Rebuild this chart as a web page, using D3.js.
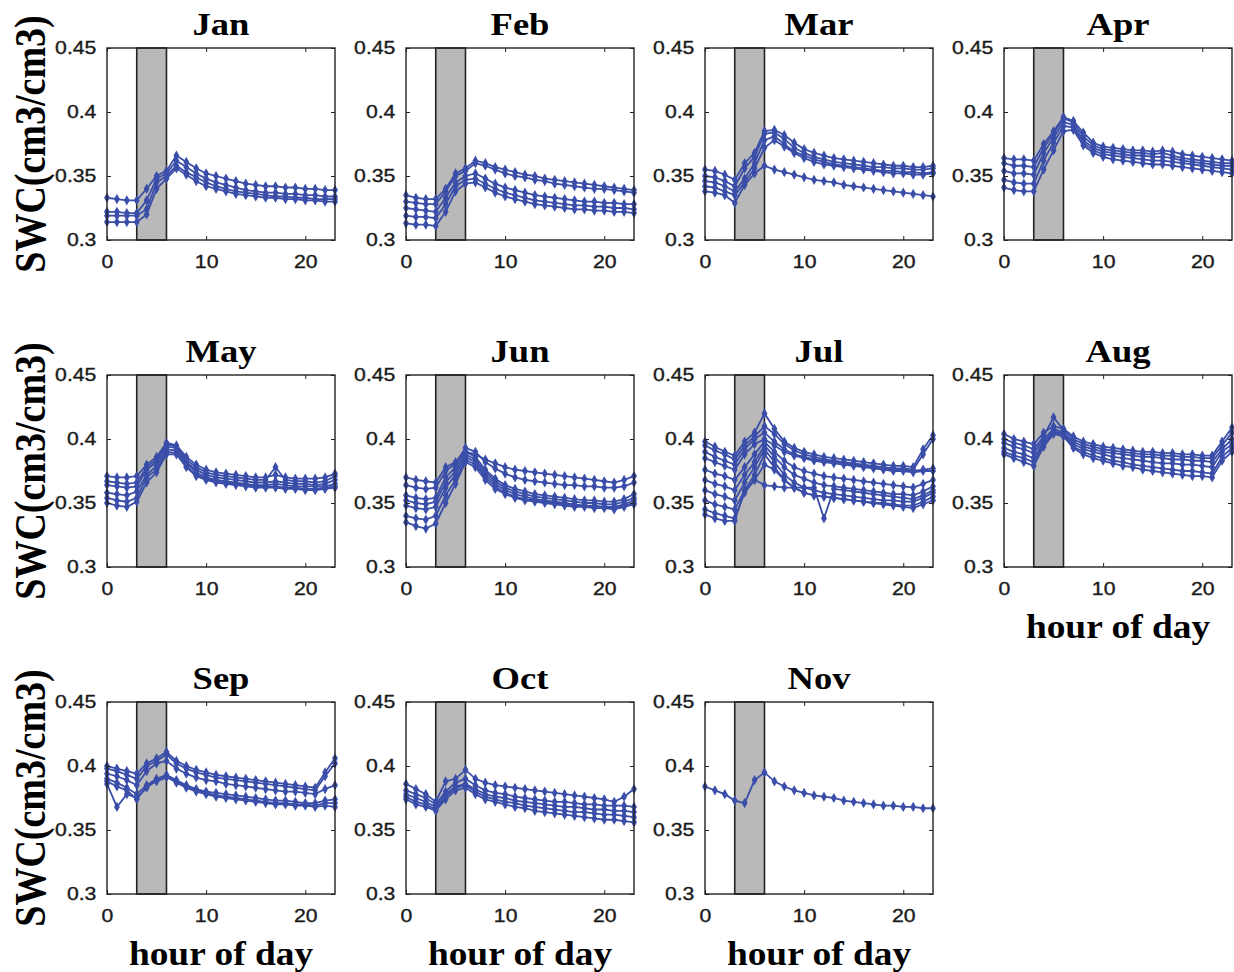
<!DOCTYPE html>
<html>
<head>
<meta charset="utf-8">
<script src="https://cdnjs.cloudflare.com/ajax/libs/d3/7.8.5/d3.min.js"></script>
<style>
  body { margin: 0; background: #fff; }
  svg { display: block; }
</style>
</head>
<body>
<div id="canvas"></div>
<script>
// soil water content by hour of day, one list of daily curves per month
var months = ["Jan", "Feb", "Mar", "Apr", "May", "Jun", "Jul", "Aug", "Sep", "Oct", "Nov"];
var hours = d3.range(24);
var xTicks = [0, 10, 20];
var yTicks = [0.3, 0.35, 0.4, 0.45];
var rainStart = 3, rainEnd = 6;

var jan = [
  [0.333,0.332,0.331,0.331,0.340,0.350,0.354,0.366,0.361,0.356,0.352,0.350,0.348,0.346,0.344,0.343,0.342,0.342,0.341,0.341,0.340,0.340,0.339,0.339],
  [0.322,0.322,0.321,0.321,0.331,0.348,0.352,0.362,0.357,0.352,0.348,0.345,0.343,0.341,0.339,0.338,0.337,0.337,0.336,0.336,0.335,0.335,0.334,0.334],
  [0.319,0.319,0.319,0.319,0.324,0.345,0.350,0.358,0.353,0.349,0.345,0.342,0.340,0.338,0.337,0.336,0.335,0.334,0.334,0.333,0.333,0.332,0.332,0.332],
  [0.314,0.314,0.314,0.314,0.320,0.340,0.348,0.356,0.351,0.346,0.342,0.340,0.338,0.336,0.335,0.334,0.333,0.333,0.332,0.332,0.331,0.331,0.330,0.330]
];
var feb = [
  [0.335,0.333,0.332,0.332,0.340,0.352,0.356,0.362,0.360,0.357,0.355,0.353,0.351,0.350,0.348,0.347,0.346,0.345,0.344,0.343,0.342,0.341,0.340,0.339],
  [0.330,0.329,0.328,0.328,0.338,0.350,0.354,0.360,0.358,0.355,0.352,0.350,0.349,0.347,0.346,0.344,0.343,0.342,0.341,0.340,0.340,0.339,0.338,0.337],
  [0.325,0.324,0.323,0.322,0.333,0.345,0.350,0.352,0.348,0.344,0.341,0.339,0.337,0.335,0.334,0.333,0.332,0.331,0.330,0.330,0.329,0.329,0.328,0.328],
  [0.319,0.318,0.318,0.317,0.328,0.342,0.347,0.348,0.344,0.340,0.337,0.335,0.333,0.331,0.330,0.329,0.328,0.327,0.327,0.326,0.326,0.325,0.325,0.324],
  [0.313,0.312,0.312,0.311,0.322,0.338,0.344,0.345,0.341,0.337,0.334,0.332,0.330,0.328,0.327,0.326,0.325,0.324,0.324,0.323,0.323,0.322,0.322,0.321]
];
var mar = [
  [0.355,0.354,0.351,0.347,0.360,0.368,0.385,0.386,0.382,0.376,0.371,0.368,0.366,0.364,0.363,0.362,0.361,0.360,0.359,0.358,0.358,0.357,0.357,0.358],
  [0.350,0.349,0.346,0.342,0.356,0.365,0.383,0.384,0.379,0.372,0.368,0.365,0.363,0.361,0.360,0.359,0.358,0.357,0.357,0.356,0.356,0.355,0.355,0.356],
  [0.346,0.345,0.342,0.338,0.348,0.360,0.378,0.381,0.375,0.369,0.366,0.363,0.361,0.359,0.358,0.357,0.356,0.355,0.354,0.354,0.353,0.353,0.352,0.353],
  [0.342,0.341,0.338,0.335,0.345,0.356,0.372,0.378,0.373,0.368,0.364,0.361,0.359,0.358,0.357,0.356,0.355,0.354,0.353,0.352,0.352,0.351,0.351,0.352],
  [0.338,0.337,0.335,0.329,0.343,0.352,0.358,0.355,0.353,0.351,0.349,0.347,0.346,0.345,0.343,0.342,0.341,0.340,0.339,0.338,0.337,0.336,0.335,0.334]
];
var apr = [
  [0.364,0.363,0.363,0.362,0.375,0.385,0.396,0.393,0.384,0.376,0.373,0.372,0.371,0.370,0.370,0.369,0.370,0.369,0.367,0.366,0.365,0.364,0.363,0.362],
  [0.360,0.358,0.358,0.357,0.372,0.383,0.395,0.392,0.381,0.374,0.371,0.370,0.369,0.368,0.368,0.367,0.368,0.366,0.364,0.363,0.362,0.361,0.360,0.360],
  [0.354,0.352,0.352,0.351,0.368,0.380,0.392,0.390,0.378,0.372,0.369,0.368,0.367,0.366,0.366,0.365,0.365,0.364,0.362,0.361,0.360,0.359,0.358,0.358],
  [0.347,0.345,0.344,0.344,0.362,0.376,0.389,0.388,0.376,0.370,0.367,0.366,0.365,0.364,0.363,0.362,0.362,0.361,0.360,0.359,0.358,0.357,0.356,0.355],
  [0.341,0.339,0.338,0.338,0.355,0.370,0.385,0.386,0.374,0.368,0.365,0.363,0.362,0.361,0.360,0.359,0.359,0.358,0.357,0.356,0.355,0.354,0.353,0.352]
];
var may = [
  [0.371,0.370,0.370,0.371,0.380,0.386,0.397,0.395,0.386,0.380,0.376,0.374,0.373,0.372,0.371,0.370,0.370,0.372,0.370,0.369,0.369,0.369,0.370,0.373],
  [0.367,0.366,0.365,0.366,0.378,0.384,0.396,0.394,0.384,0.378,0.374,0.372,0.371,0.370,0.369,0.368,0.368,0.378,0.368,0.367,0.367,0.366,0.367,0.371],
  [0.364,0.363,0.362,0.363,0.376,0.382,0.394,0.393,0.382,0.376,0.372,0.370,0.369,0.368,0.367,0.366,0.366,0.367,0.366,0.365,0.365,0.364,0.365,0.368],
  [0.358,0.357,0.356,0.359,0.372,0.379,0.392,0.391,0.381,0.374,0.370,0.368,0.367,0.366,0.365,0.364,0.364,0.365,0.364,0.363,0.363,0.363,0.363,0.365],
  [0.354,0.352,0.351,0.354,0.370,0.376,0.390,0.389,0.379,0.372,0.369,0.367,0.366,0.365,0.364,0.363,0.363,0.363,0.362,0.362,0.361,0.361,0.362,0.363],
  [0.350,0.348,0.347,0.351,0.366,0.374,0.388,0.388,0.378,0.371,0.368,0.366,0.365,0.364,0.363,0.362,0.362,0.362,0.361,0.361,0.360,0.360,0.361,0.362]
];
var jun = [
  [0.370,0.368,0.367,0.366,0.378,0.382,0.390,0.388,0.384,0.381,0.378,0.376,0.375,0.374,0.373,0.372,0.371,0.370,0.369,0.368,0.367,0.366,0.368,0.371],
  [0.364,0.362,0.361,0.362,0.375,0.381,0.393,0.390,0.382,0.377,0.373,0.370,0.368,0.367,0.366,0.365,0.364,0.364,0.363,0.363,0.362,0.362,0.363,0.366],
  [0.356,0.354,0.353,0.354,0.370,0.378,0.390,0.386,0.376,0.369,0.364,0.361,0.359,0.357,0.356,0.355,0.354,0.353,0.352,0.352,0.351,0.351,0.353,0.357],
  [0.352,0.350,0.349,0.351,0.366,0.375,0.388,0.384,0.374,0.367,0.362,0.359,0.357,0.355,0.354,0.353,0.352,0.351,0.350,0.350,0.349,0.349,0.351,0.354],
  [0.348,0.346,0.345,0.347,0.362,0.372,0.386,0.382,0.372,0.365,0.360,0.357,0.355,0.353,0.352,0.351,0.350,0.349,0.348,0.348,0.347,0.347,0.349,0.352],
  [0.340,0.338,0.337,0.340,0.356,0.368,0.384,0.380,0.370,0.363,0.358,0.355,0.353,0.352,0.351,0.350,0.349,0.348,0.348,0.347,0.347,0.346,0.348,0.350],
  [0.335,0.332,0.330,0.334,0.350,0.365,0.382,0.378,0.368,0.361,0.357,0.354,0.352,0.351,0.350,0.349,0.348,0.347,0.347,0.346,0.346,0.345,0.347,0.349]
];
var jul = [
  [0.398,0.394,0.390,0.387,0.398,0.405,0.420,0.408,0.398,0.393,0.390,0.388,0.386,0.385,0.384,0.383,0.382,0.381,0.380,0.379,0.379,0.378,0.392,0.403],
  [0.395,0.391,0.388,0.384,0.395,0.402,0.410,0.404,0.396,0.391,0.388,0.386,0.384,0.383,0.382,0.381,0.380,0.379,0.378,0.377,0.377,0.376,0.388,0.400],
  [0.390,0.386,0.383,0.380,0.392,0.400,0.405,0.398,0.392,0.388,0.386,0.384,0.383,0.382,0.381,0.380,0.379,0.378,0.377,0.376,0.376,0.375,0.376,0.377],
  [0.385,0.382,0.379,0.376,0.388,0.396,0.400,0.395,0.390,0.387,0.385,0.383,0.382,0.381,0.380,0.379,0.378,0.377,0.376,0.375,0.375,0.374,0.375,0.375],
  [0.376,0.373,0.371,0.368,0.378,0.388,0.398,0.390,0.383,0.378,0.375,0.373,0.371,0.370,0.369,0.368,0.367,0.366,0.365,0.364,0.363,0.362,0.365,0.368],
  [0.368,0.365,0.363,0.360,0.372,0.382,0.395,0.386,0.378,0.372,0.369,0.366,0.364,0.363,0.362,0.361,0.360,0.359,0.358,0.357,0.357,0.356,0.359,0.363],
  [0.360,0.357,0.355,0.352,0.366,0.378,0.392,0.382,0.372,0.366,0.362,0.360,0.358,0.357,0.356,0.355,0.354,0.353,0.352,0.352,0.351,0.351,0.354,0.358],
  [0.352,0.349,0.347,0.345,0.360,0.372,0.388,0.378,0.368,0.362,0.358,0.356,0.355,0.354,0.353,0.352,0.351,0.350,0.350,0.349,0.348,0.348,0.351,0.355],
  [0.345,0.342,0.340,0.338,0.358,0.368,0.364,0.363,0.362,0.362,0.362,0.362,0.338,0.361,0.360,0.359,0.358,0.357,0.356,0.355,0.354,0.353,0.356,0.360],
  [0.341,0.338,0.336,0.336,0.360,0.368,0.380,0.376,0.368,0.362,0.358,0.356,0.355,0.354,0.353,0.352,0.351,0.350,0.349,0.348,0.347,0.346,0.349,0.352]
];
var aug = [
  [0.404,0.400,0.398,0.396,0.405,0.410,0.408,0.402,0.398,0.396,0.394,0.393,0.392,0.391,0.390,0.390,0.389,0.389,0.388,0.388,0.387,0.387,0.398,0.409],
  [0.400,0.397,0.395,0.392,0.402,0.417,0.407,0.400,0.396,0.394,0.392,0.391,0.390,0.389,0.388,0.388,0.387,0.387,0.386,0.386,0.385,0.385,0.395,0.405],
  [0.397,0.394,0.392,0.389,0.400,0.408,0.405,0.398,0.394,0.392,0.390,0.389,0.388,0.387,0.386,0.386,0.385,0.384,0.384,0.383,0.383,0.382,0.392,0.400],
  [0.393,0.390,0.388,0.385,0.398,0.406,0.404,0.396,0.392,0.390,0.388,0.386,0.385,0.384,0.383,0.382,0.381,0.381,0.380,0.380,0.379,0.378,0.390,0.396],
  [0.390,0.387,0.385,0.382,0.396,0.405,0.403,0.394,0.390,0.387,0.385,0.383,0.382,0.380,0.379,0.378,0.377,0.376,0.375,0.375,0.374,0.373,0.386,0.393],
  [0.388,0.385,0.382,0.379,0.394,0.404,0.402,0.393,0.388,0.385,0.383,0.381,0.379,0.378,0.376,0.375,0.374,0.373,0.372,0.371,0.371,0.370,0.383,0.390]
];
var sep = [
  [0.400,0.398,0.396,0.394,0.402,0.406,0.411,0.404,0.400,0.397,0.395,0.393,0.392,0.391,0.390,0.389,0.388,0.387,0.386,0.385,0.384,0.383,0.395,0.406],
  [0.398,0.396,0.393,0.390,0.400,0.404,0.409,0.402,0.398,0.395,0.393,0.391,0.390,0.389,0.388,0.387,0.386,0.385,0.384,0.383,0.382,0.381,0.392,0.402],
  [0.394,0.392,0.389,0.385,0.396,0.402,0.404,0.398,0.394,0.391,0.389,0.388,0.386,0.385,0.384,0.383,0.382,0.381,0.380,0.380,0.379,0.378,0.382,0.385],
  [0.390,0.387,0.383,0.378,0.385,0.390,0.393,0.389,0.385,0.382,0.380,0.379,0.378,0.377,0.376,0.375,0.374,0.373,0.373,0.372,0.371,0.371,0.373,0.374],
  [0.386,0.368,0.378,0.375,0.383,0.389,0.392,0.387,0.383,0.380,0.378,0.376,0.375,0.374,0.373,0.372,0.371,0.370,0.370,0.369,0.369,0.368,0.369,0.368],
  [0.388,0.384,0.381,0.374,0.384,0.388,0.391,0.388,0.384,0.381,0.379,0.377,0.376,0.375,0.374,0.373,0.372,0.371,0.371,0.370,0.370,0.369,0.371,0.371]
];
var oct = [
  [0.386,0.382,0.378,0.372,0.388,0.390,0.397,0.390,0.387,0.385,0.384,0.383,0.382,0.381,0.380,0.379,0.378,0.377,0.376,0.375,0.374,0.372,0.376,0.382],
  [0.381,0.378,0.375,0.370,0.380,0.387,0.390,0.385,0.381,0.379,0.378,0.376,0.375,0.374,0.373,0.372,0.372,0.371,0.370,0.370,0.369,0.369,0.369,0.368],
  [0.378,0.375,0.372,0.368,0.378,0.384,0.386,0.382,0.378,0.376,0.375,0.373,0.372,0.371,0.370,0.369,0.368,0.368,0.367,0.366,0.366,0.365,0.365,0.364],
  [0.376,0.372,0.370,0.366,0.376,0.383,0.385,0.380,0.376,0.374,0.372,0.371,0.369,0.368,0.367,0.366,0.365,0.364,0.364,0.363,0.362,0.362,0.361,0.360],
  [0.374,0.370,0.368,0.365,0.374,0.381,0.383,0.378,0.374,0.372,0.370,0.368,0.367,0.365,0.364,0.363,0.362,0.361,0.360,0.359,0.358,0.358,0.357,0.356]
];
var nov = [
  [0.384,0.381,0.378,0.373,0.371,0.389,0.395,0.388,0.384,0.381,0.379,0.377,0.376,0.375,0.373,0.372,0.371,0.370,0.369,0.369,0.368,0.368,0.367,0.367]
];
var monthData = [jan, feb, mar, apr, may, jun, jul, aug, sep, oct, nov];

var width = 1234, height = 972;
var panelW = 228, panelH = 192;
var colStep = 299, rowStep = 327;
var left0 = 107, top0 = 48;
var blue = "#3a4ea9";
var serif = "'Liberation Serif', 'Times New Roman', serif";
var sans = "'Liberation Sans', Arial, Helvetica, sans-serif";
var stretch = 1.18; // the source figure is a bit wider than tall

var svg = d3.select("#canvas").append("svg").attr("width", width).attr("height", height);

var x = d3.scaleLinear().domain([0, 23]).range([0, panelW]);
var y = d3.scaleLinear().domain([0.3, 0.45]).range([panelH, 0]);
var line = d3.line().x(function(d, i) { return x(hours[i]); }).y(function(d) { return y(d); });
var marker = d3.symbol().type(d3.symbolDiamond).size(30);

months.forEach(function(m, k) {
    var col = k % 4, row = Math.floor(k / 4);
    var g = svg.append("g").attr("transform", "translate(" + (left0 + col * colStep) + "," + (top0 + row * rowStep) + ")");

    // shaded rain window
    g.append("rect")
        .attr("x", x(rainStart))
        .attr("y", 0)
        .attr("width", x(rainEnd) - x(rainStart))
        .attr("height", panelH)
        .attr("fill", "#b9b9b9")
        .attr("stroke", "#222")
        .attr("stroke-width", 1.6);

    monthData[k].forEach(function(s) {
        g.append("path")
            .attr("d", line(s))
            .attr("fill", "none")
            .attr("stroke", blue)
            .attr("stroke-width", 1.8);
        g.selectAll(null).data(s).enter().append("path")
            .attr("d", marker)
            .attr("transform", function(d, i) { return "translate(" + x(hours[i]) + "," + y(d) + ")"; })
            .attr("fill", blue);
    });

    // axes, ticks pointing inward like matlab
    var xb = g.append("g").attr("transform", "translate(0," + panelH + ")")
        .call(d3.axisBottom(x).tickValues(xTicks).tickSizeInner(-4).tickSizeOuter(0).tickPadding(15));
    g.append("g").call(d3.axisTop(x).tickValues(xTicks).tickSizeInner(-4).tickSizeOuter(0).tickFormat(""));
    var yl = g.append("g")
        .call(d3.axisLeft(y).tickValues(yTicks).tickSizeInner(-4).tickSizeOuter(0).tickPadding(9).tickFormat(d3.format("")));
    g.append("g").attr("transform", "translate(" + panelW + ",0)")
        .call(d3.axisRight(y).tickValues(yTicks).tickSizeInner(-4).tickSizeOuter(0).tickFormat(""));

    g.selectAll(".tick line").attr("stroke", "#222");
    g.selectAll(".domain").attr("stroke", "none");
    [xb, yl].forEach(function(a) {
        a.selectAll("text")
            .style("font-family", sans)
            .style("font-size", "18px")
            .attr("fill", "#1a1a1a")
            .attr("stroke", "#1a1a1a")
            .attr("stroke-width", 0.35)
            .attr("transform", "scale(" + stretch + ",1)");
    });

    g.append("rect")
        .attr("width", panelW).attr("height", panelH)
        .attr("fill", "none").attr("stroke", "#222").attr("stroke-width", 1.4);

    g.append("text")
        .attr("transform", "translate(" + panelW / 2 + ",-13) scale(" + stretch + ",1)")
        .attr("text-anchor", "middle")
        .style("font-family", serif)
        .style("font-weight", "bold")
        .style("font-size", "31px")
        .text(m);

    if (col == 0) {
        svg.append("text")
            .attr("transform", "translate(45," + (top0 + row * rowStep + panelH / 2) + ") scale(" + stretch + ",1) rotate(-90)")
            .attr("text-anchor", "middle")
            .style("font-family", serif)
            .style("font-weight", "bold")
            .style("font-size", "38px")
            .text("SWC(cm3/cm3)");
    }
    if (row == 2 || k == 7) {
        g.append("text")
            .attr("transform", "translate(" + panelW / 2 + "," + (panelH + 71) + ") scale(1.1,1)")
            .attr("text-anchor", "middle")
            .style("font-family", serif)
            .style("font-weight", "bold")
            .style("font-size", "34px")
            .text("hour of day");
    }
});
</script>
</body>
</html>
